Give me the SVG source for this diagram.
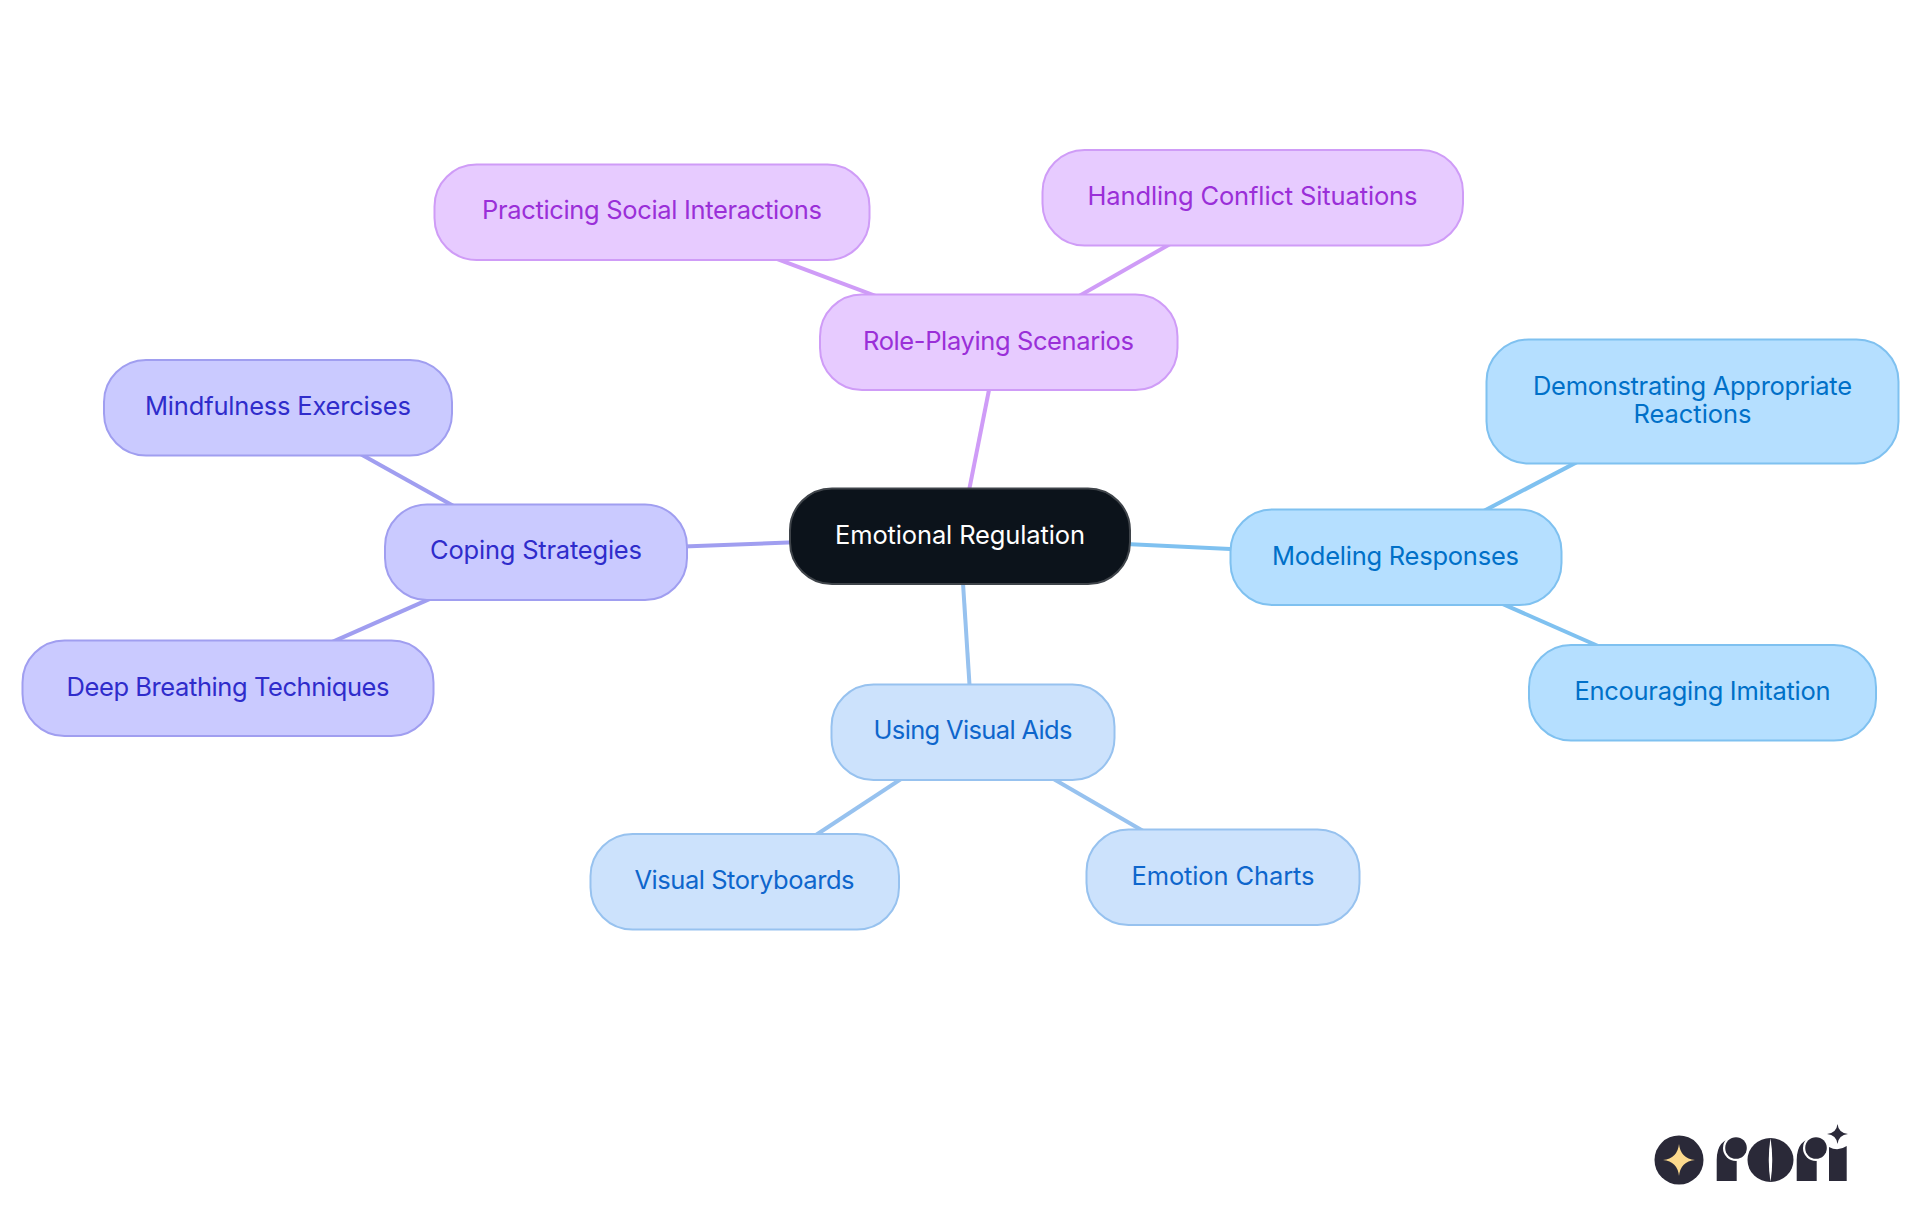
<svg xmlns="http://www.w3.org/2000/svg" width="1920" height="1215" viewBox="0 0 1920 1215">
<style>
text{font-family:"Inter","Noto Sans","Liberation Sans",sans-serif;font-size:25.5px;text-anchor:middle}
rect.n{stroke-width:2}
.c line{stroke-width:4;fill:none}
.root rect{fill:#0c131b;stroke:#3f444a}.root text{fill:#fff}
.pu rect{fill:#e7cbff;stroke:#cf9cf7}.pu text{fill:#9a2fd8}
.bl rect{fill:#b5dfff;stroke:#7fc1f0}.bl text{fill:#0070c8}
.lb rect{fill:#cce2fc;stroke:#97c2ef}.lb text{fill:#0e66cc}
.in rect{fill:#cacaff;stroke:#a09ef0}.in text{fill:#2f2ccb}
.logo{fill:#2a2938}
</style>
<rect width="1920" height="1215" fill="#fff"/>
<g id="connectors" class="c">
<g stroke="#cf9cf7"><line x1="960" y1="536" x2="998.5" y2="342"/><line x1="998.5" y1="342" x2="652" y2="212"/><line x1="998.5" y1="342" x2="1252.5" y2="197"/></g>
<g stroke="#a09ef0"><line x1="960" y1="536" x2="536" y2="552"/><line x1="536" y1="552" x2="278" y2="408"/><line x1="536" y1="552" x2="228" y2="688"/></g>
<g stroke="#97c2ef"><line x1="960" y1="536" x2="972.5" y2="732"/><line x1="972.5" y1="732" x2="744.5" y2="882"/><line x1="972.5" y1="732" x2="1222.5" y2="877"/></g>
<g stroke="#7fc1f0"><line x1="960" y1="536" x2="1396" y2="557"/><line x1="1396" y1="557" x2="1692.5" y2="401.5"/><line x1="1396" y1="557" x2="1702.5" y2="692"/></g>
</g>
<g id="node-root" class="root"><rect class="n" x="790" y="488.5" width="340" height="95.5" rx="42"/><text x="960" y="544" textLength="250">Emotional Regulation</text></g>
<g id="node-role" class="pu"><rect class="n" x="820" y="294.5" width="357.5" height="95.5" rx="42"/><text x="998.5" y="350" textLength="271">Role-Playing Scenarios</text></g>
<g id="node-practicing" class="pu"><rect class="n" x="434.5" y="164.5" width="435" height="95.5" rx="42"/><text x="652" y="218.8" textLength="340">Practicing Social Interactions</text></g>
<g id="node-handling" class="pu"><rect class="n" x="1042.5" y="150" width="420.5" height="95.5" rx="42"/><text x="1252.5" y="205" textLength="330">Handling Conflict Situations</text></g>
<g id="node-coping" class="in"><rect class="n" x="385" y="504.5" width="302" height="95.5" rx="42"/><text x="536" y="559" textLength="212">Coping Strategies</text></g>
<g id="node-mindfulness" class="in"><rect class="n" x="104" y="360" width="348" height="95.5" rx="42"/><text x="278" y="415" textLength="266">Mindfulness Exercises</text></g>
<g id="node-deep" class="in"><rect class="n" x="22.5" y="640.5" width="411" height="95.5" rx="42"/><text x="228" y="695.8" textLength="323">Deep Breathing Techniques</text></g>
<g id="node-visual" class="lb"><rect class="n" x="831.5" y="684.5" width="283" height="95.5" rx="42"/><text x="973" y="739" textLength="199">Using Visual Aids</text></g>
<g id="node-storyboards" class="lb"><rect class="n" x="590.5" y="834" width="308.5" height="95.5" rx="42"/><text x="744.5" y="889" textLength="220">Visual Storyboards</text></g>
<g id="node-charts" class="lb"><rect class="n" x="1086.5" y="829.5" width="273" height="95.5" rx="42"/><text x="1223" y="885" textLength="183">Emotion Charts</text></g>
<g id="node-modeling" class="bl"><rect class="n" x="1230.5" y="509.5" width="331" height="95.5" rx="42"/><text x="1395.5" y="565" textLength="247">Modeling Responses</text></g>
<g id="node-demonstrating" class="bl"><rect class="n" x="1486.5" y="339.5" width="412" height="124" rx="42"/><text x="1692.5" y="394.5" textLength="319">Demonstrating Appropriate</text><text x="1692.5" y="423" textLength="118">Reactions</text></g>
<g id="node-encouraging" class="bl"><rect class="n" x="1529" y="645" width="347" height="95.5" rx="42"/><text x="1702.5" y="700" textLength="256">Encouraging Imitation</text></g>
<g id="logo" class="logo">
<circle cx="1679" cy="1160" r="24.5"/>
<path d="M1679 1144Q1680.500 1158.500 1695 1160Q1680.500 1161.500 1679 1176Q1677.500 1161.500 1663 1160Q1677.500 1158.500 1679 1144Z" fill="#fbd98d"/>
<path d="M1716.7 1181V1160Q1716.7 1138 1736.7 1138V1181Z"/>
<circle cx="1736" cy="1148" r="13" fill="#fff"/>
<circle cx="1736" cy="1148" r="10.8"/>
<ellipse cx="1770.5" cy="1160" rx="23" ry="22"/>
<path d="M1770.5 1138Q1767 1160 1770.5 1182Q1774 1160 1770.5 1138Z" fill="#fff"/>
<path d="M1796.7 1181V1160Q1796.7 1138 1816.7 1138V1181Z"/>
<circle cx="1816" cy="1148" r="13" fill="#fff"/>
<circle cx="1816" cy="1148" r="10.8"/>
<path d="M1829 1181V1147Q1838 1152 1846.7 1146V1181Z"/>
<path d="M1837.5 1124Q1838.5 1133 1848 1134Q1838.5 1135 1837.5 1144Q1836.5 1135 1827 1134Q1836.5 1133 1837.5 1124Z"/>
</g>
</svg>
